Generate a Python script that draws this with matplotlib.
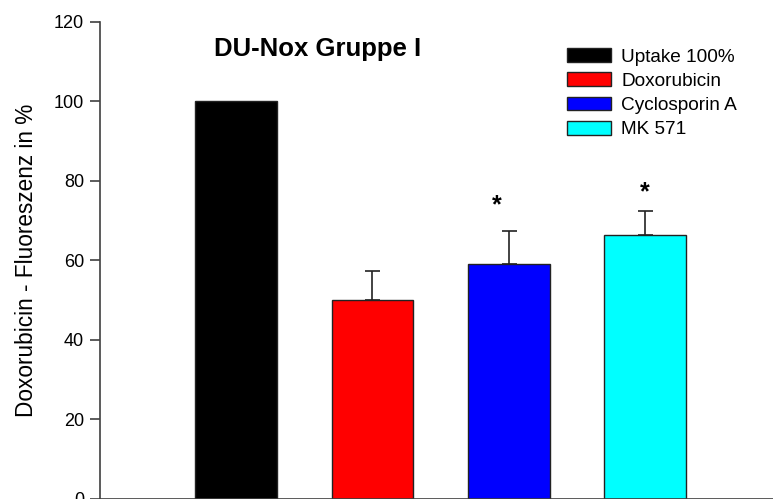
import matplotlib
matplotlib.use("Agg")
import matplotlib.pyplot as plt
from matplotlib.patches import Patch

plt.rcParams['font.family'] = ['Liberation Sans', 'DejaVu Sans']

# ---- data ----
groups = ["Uptake 100%", "Doxorubicin", "Cyclosporin A", "MK 571"]
means = [100.0, 49.9, 59.0, 66.4]
errors = [0.0, 7.5, 8.3, 6.1]
signif = ["", "", "*", "*"]
colors = ["#000000", "#ff0000", "#0000ff", "#00ffff"]
title = "DU-Nox Gruppe I"
ylabel = "Doxorubicin - Fluoreszenz in %"
yticks = [0, 20, 40, 60, 80, 100, 120]

# star placement tweaks (x offset in data units, y offset in data units)
star_dx = [0, 0, -0.085, 0]
star_dy = [0, 0, 6.6, 4.6]

W, H = 773, 499
fig = plt.figure(figsize=(W / 100, H / 100), dpi=100)
ax = fig.add_axes([100 / W, 0.3 / H, (W - 100) / W, (498.7 - 22) / H])

x = list(range(1, len(groups) + 1))
ax.bar(x, means, width=0.6, color=colors, edgecolor="#222222", linewidth=1.0, zorder=2)
for xi, m, e in zip(x, means, errors):
    if e > 0:
        ax.errorbar([xi], [m], yerr=[[0], [e]], fmt="none", ecolor="#222222",
                    elinewidth=1.2, capsize=5.4, capthick=1.2, zorder=3)
for xi, m, e, s, dx, dy in zip(x, means, errors, signif, star_dx, star_dy):
    if s:
        ax.text(xi + dx, m + e + dy, s, ha="center", va="center",
                fontsize=18, fontweight="bold")

ax.set_xlim(0.0, 4.94)
ax.set_ylim(0, 120)
ax.set_yticks(yticks)
ax.set_yticklabels([str(t) for t in yticks], fontsize=13)
ax.set_xticks([])
for side in ["top", "right"]:
    ax.spines[side].set_visible(False)
for side in ["left", "bottom"]:
    ax.spines[side].set_color("#404040")
    ax.spines[side].set_linewidth(1.2)
ax.tick_params(axis="y", direction="out", length=7, width=1.2, color="#404040", pad=4.5)
ax.set_ylabel(ylabel, fontsize=16.3, labelpad=11)

fig.text(317.7 / W, 1 - 56 / H, title, ha="center", va="baseline",
         fontsize=18.5, fontweight="bold")

handles = [Patch(facecolor=c, edgecolor="#222222", linewidth=1.0) for c in colors]
leg = ax.legend(handles, groups, loc="upper left",
                bbox_to_anchor=(567 / W, 1 - 48 / H), bbox_transform=fig.transFigure,
                frameon=False, fontsize=13.7, handlelength=2.3, handleheight=0.75,
                handletextpad=0.55, labelspacing=0.35, borderaxespad=0, borderpad=0)

fig.savefig("out.png", dpi=100)
